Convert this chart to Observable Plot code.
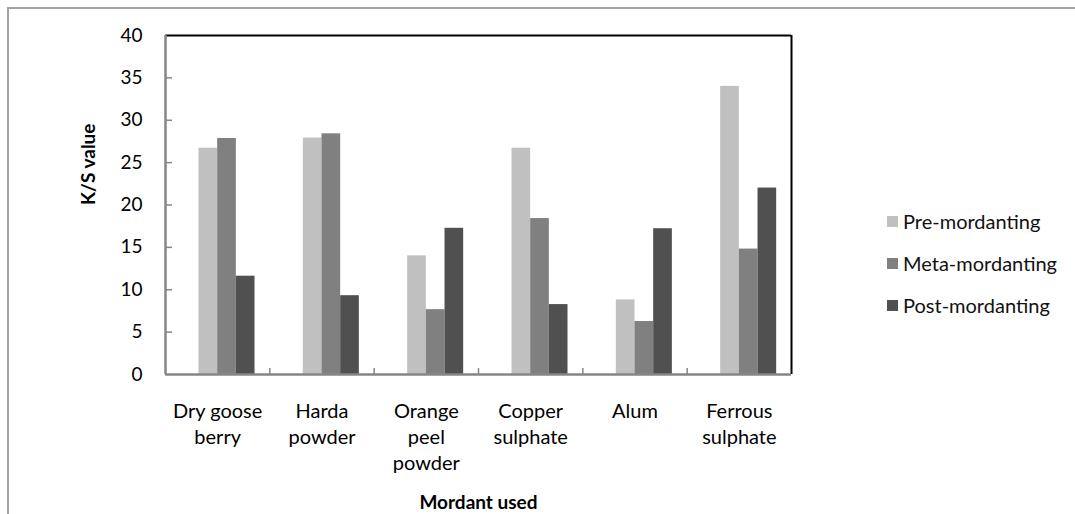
<!DOCTYPE html>
<html>
<head>
<meta charset="utf-8">
<script src="https://cdn.jsdelivr.net/npm/d3@7"></script>
<script src="https://cdn.jsdelivr.net/npm/@observablehq/plot@0.6"></script>
<style>
  html, body { margin: 0; padding: 0; background: #fff; overflow: hidden; }
  #wrap { position: relative; width: 1075px; height: 514px; overflow: hidden; font-family: Lato, "Open Sans", sans-serif; }
  #border { position: absolute; left: 7px; top: 7px; width: 3000px; height: 3000px; border: 2px solid #a3a3a3; box-sizing: border-box; }
  #chart { position: absolute; left: 0; top: 0; }
  #legend { position: absolute; left: 887px; top: 200px; font-size: 20px; color: #111; }
  #legend .row { display: flex; align-items: center; height: 42px; }
  #legend .sw { width: 11px; height: 11px; margin-right: 5px; }
</style>
</head>
<body>
<div id="wrap">
  <div id="border"></div>
  <div id="chart"></div>
  <div id="legend"></div>
</div>
<script>
const categories = ["Dry goose berry", "Harda powder", "Orange peel powder", "Copper sulphate", "Alum", "Ferrous sulphate"];
const categoryLabels = ["Dry goose\nberry", "Harda\npowder", "Orange\npeel\npowder", "Copper\nsulphate", "Alum", "Ferrous\nsulphate"];
const series = ["Pre-mordanting", "Meta-mordanting", "Post-mordanting"];
const preValues = [26.7, 27.9, 14.0, 26.7, 8.8, 34.0];
const metaValues = [27.85, 28.4, 7.65, 18.4, 6.25, 14.8];
const postValues = [11.6, 9.3, 17.25, 8.25, 17.2, 22.0];
const yTicks = [0, 5, 10, 15, 20, 25, 30, 35, 40];
const xTitle = "Mordant used";
const yTitle = "K/S value";

const valuesBySeries = [preValues, metaValues, postValues];
const rows = [];
categories.forEach((c, i) => {
  series.forEach((s, j) => rows.push({cat: c, i, series: s, value: valuesBySeries[j][i]}));
});

// within-category slot layout (leading empty slot reproduces the Excel offset)
const inner = d3.scaleBand().domain(["", ...series]).range([0, 1]).paddingInner(0).paddingOuter(0.794);

const colorOpts = {domain: series, range: ["#c0c0c0", "#808080", "#505050"]};
const tickLenX = 0.067; // inward y-tick length, in category units (~7px)
const tickLenY = 0.7;   // upward x-tick length, in value units (~6px)

const plot = Plot.plot({
  width: 1075,
  height: 514,
  marginLeft: 165,
  marginRight: 284,
  marginTop: 35,
  marginBottom: 140,
  style: {fontFamily: "Lato, 'Open Sans', sans-serif", fontSize: "19px", background: "transparent", color: "#000"},
  x: {type: "linear", domain: [0, categories.length], axis: null},
  y: {domain: [0, 40], ticks: yTicks, tickSize: 0, tickPadding: 23, tickFormat: d => String(d), label: null},
  color: colorOpts,
  marks: [
    Plot.rect(rows, {
      x1: d => d.i + inner(d.series),
      x2: d => d.i + inner(d.series) + inner.bandwidth(),
      y1: () => 0,
      y2: "value",
      fill: "series"
    }),
    Plot.ruleY([40], {stroke: "#000", strokeWidth: 2}),
    Plot.ruleX([categories.length], {stroke: "#000", strokeWidth: 2}),
    Plot.ruleY(yTicks.slice(1, -1), {x1: () => 0, x2: () => tickLenX, stroke: "#868686", strokeWidth: 1.5}),
    Plot.ruleX(d3.range(1, categories.length), {y1: () => 0, y2: () => tickLenY, stroke: "#868686", strokeWidth: 1.5}),
    Plot.ruleX([0], {stroke: "#868686", strokeWidth: 2.5}),
    Plot.ruleY([0], {stroke: "#868686", strokeWidth: 2.5}),
    Plot.text(categoryLabels, {
      x: (d, i) => i + 0.5,
      y: () => 0,
      text: d => d,
      dy: 25,
      lineAnchor: "top",
      lineHeight: 1.3,
      fontSize: 20,
      fill: "#000"
    }),
    Plot.text([xTitle], {frameAnchor: "bottom", dy: 134, fontWeight: "bold", fontSize: 19, fill: "#000"}),
    Plot.text([yTitle], {frameAnchor: "left", dx: -77, rotate: -90, fontWeight: "bold", fontSize: 19, fill: "#000"})
  ]
});
document.getElementById("chart").appendChild(plot);

const legend = document.getElementById("legend");
series.forEach((s, j) => {
  const row = document.createElement("div");
  row.className = "row";
  const sw = document.createElement("div");
  sw.className = "sw";
  sw.style.background = colorOpts.range[j];
  const lab = document.createElement("span");
  lab.textContent = s;
  row.appendChild(sw);
  row.appendChild(lab);
  legend.appendChild(row);
});
</script>
</body>
</html>
